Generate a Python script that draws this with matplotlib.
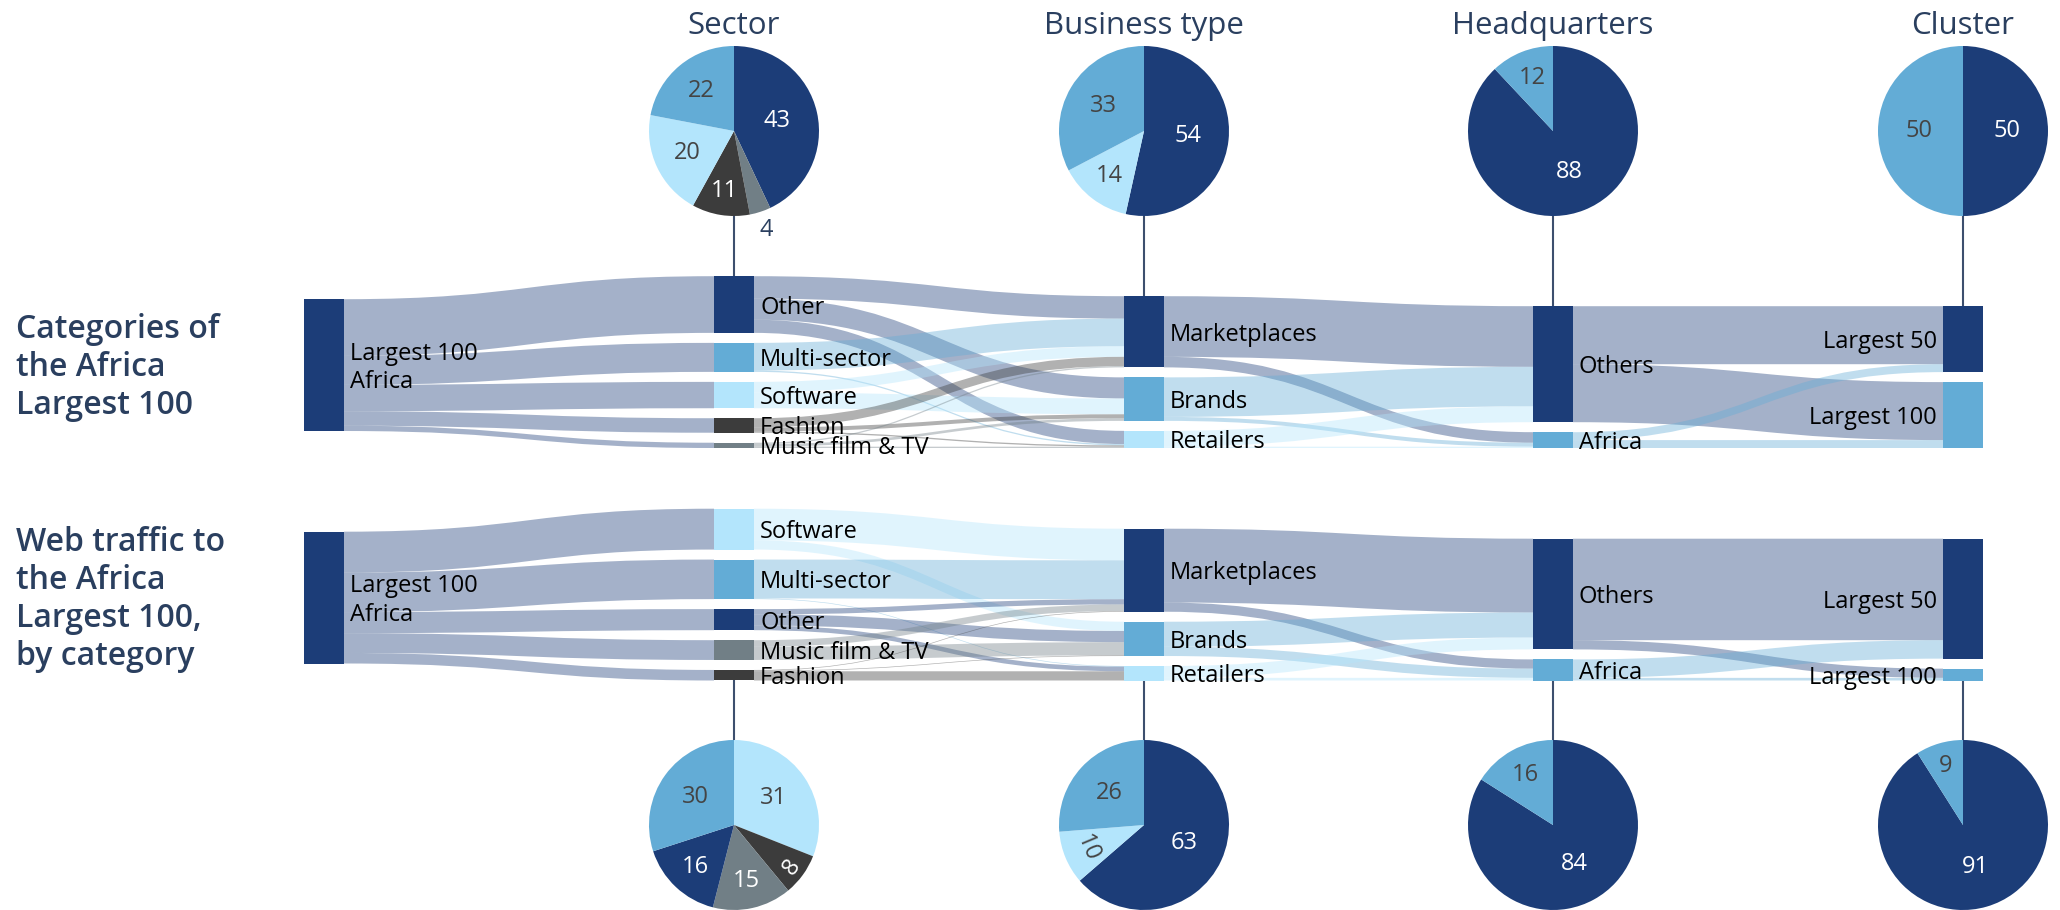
import matplotlib.pyplot as plt
from matplotlib.path import Path
from matplotlib.patches import PathPatch, Rectangle
from matplotlib.colors import to_rgba
import numpy as np

plt.rcParams['font.family'] = ['Open Sans', 'DejaVu Sans']

# ---------------- data ----------------
root_label = 'Largest 100\nAfrica'
row_titles = ['Categories of\nthe Africa\nLargest 100',
              'Web traffic to\nthe Africa\nLargest 100,\nby category']

# top sankey: count of companies
top_sectors = ['Other', 'Multi-sector', 'Software', 'Fashion', 'Music film & TV']
top_sector_values = [43, 22, 20, 11, 4]
top_business = ['Marketplaces', 'Brands', 'Retailers']
top_sector_to_business = [[17, 16, 10], [21, 0, 1], [8, 12, 0], [7, 3, 1], [1, 2, 1]]
top_hq = ['Others', 'Africa']
top_business_to_hq = [[46, 8], [30, 3], [12, 1]]
top_cluster = ['Largest 50', 'Largest 100']
top_hq_to_cluster = [[44, 44], [6, 6]]

# bottom sankey: web traffic
bot_sectors = ['Software', 'Multi-sector', 'Other', 'Music film & TV', 'Fashion']
bot_sector_values = [31, 30, 16, 15, 8]
bot_business = ['Marketplaces', 'Brands', 'Retailers']
bot_sector_to_business = [[24, 7, 0], [29.5, 0, 0.5], [4, 8.5, 3.5], [5, 10, 0], [0.5, 0.5, 7]]
bot_hq = ['Others', 'Africa']
bot_business_to_hq = [[56, 7], [19, 7], [9, 2]]
bot_cluster = ['Largest 50', 'Largest 100']
bot_hq_to_cluster = [[77, 7], [14, 2]]

# pies, clockwise from 12 o'clock
pie_titles = ['Sector', 'Business type', 'Headquarters', 'Cluster']
top_pie_labels = [['Other', 'Music film & TV', 'Fashion', 'Software', 'Multi-sector'],
                  ['Marketplaces', 'Retailers', 'Brands'],
                  ['Others', 'Africa'],
                  ['Largest 50', 'Largest 100']]
top_pie_values = [[43, 4, 11, 20, 22], [54, 14, 33], [88, 12], [50, 50]]
bot_pie_labels = [['Software', 'Fashion', 'Music film & TV', 'Other', 'Multi-sector'],
                  ['Marketplaces', 'Retailers', 'Brands'],
                  ['Others', 'Africa'],
                  ['Largest 50', 'Largest 100']]
bot_pie_values = [[31, 8, 15, 16, 30], [63, 10, 26], [84, 16], [91, 9]]

# ---------------- style ----------------
NAVY = '#1c3d78'
MID = '#63acd6'
LIGHT = '#b3e5fc'
DARK = '#3c3c3c'
GREY = '#717f86'
TXT = '#2a3f5f'
colors = {root_label: NAVY, 'Other': NAVY, 'Multi-sector': MID, 'Software': LIGHT,
          'Fashion': DARK, 'Music film & TV': GREY, 'Marketplaces': NAVY,
          'Brands': MID, 'Retailers': LIGHT, 'Others': NAVY, 'Africa': MID,
          'Largest 50': NAVY, 'Largest 100': MID}
white_text = {NAVY, DARK, GREY}

W, H = 2060, 910
col_x = [304, 714, 1124, 1533, 1943]
node_w = 40
scale = 1.318      # px per unit
gap = 10
baselines = [448, 680.5]
pie_r = 85
pie_cy = [131, 825]
lab_dy = 3         # node labels sit a touch below the node centre


def Y(y):
    return H - y


fig = plt.figure(figsize=(W / 100, H / 100), dpi=100)
ax = fig.add_axes([0, 0, 1, 1])


def draw_sankey(sectors, sector_values, business, s2b, hq, b2h, cluster, h2c, baseline):
    columns = [[root_label], sectors, business, hq, cluster]
    mats = [np.array([sector_values], float), np.array(s2b, float),
            np.array(b2h, float), np.array(h2c, float)]
    vals = [[mats[0].sum()]] + [list(m.sum(axis=0)) for m in mats]

    # node positions (pixel y, downwards)
    tops = [None] * 5
    for c in range(1, 5):
        total = sum(vals[c]) * scale + gap * (len(vals[c]) - 1)
        y = baseline - total
        t = []
        for v in vals[c]:
            t.append(y)
            y += v * scale + gap
        tops[c] = t
    mid = (tops[1][0] + baseline) / 2 + 3
    tops[0] = [mid - vals[0][0] * scale / 2]

    # links
    for k, m in enumerate(mats):
        x0 = col_x[k] + node_w
        x1 = col_x[k + 1]
        xm = (x0 + x1) / 2
        src_off = [tops[k][i] for i in range(m.shape[0])]
        tgt_start = {}
        for j in range(m.shape[1]):
            y = tops[k + 1][j]
            for i in range(m.shape[0]):
                tgt_start[(i, j)] = y
                y += m[i, j] * scale
        for i in range(m.shape[0]):
            for j in range(m.shape[1]):
                v = m[i, j]
                if v <= 0:
                    continue
                h = v * scale
                s0 = src_off[i]
                s1 = s0 + h
                src_off[i] = s1
                t0 = tgt_start[(i, j)]
                t1 = t0 + h
                verts = [(x0, Y(s0)), (xm, Y(s0)), (xm, Y(t0)), (x1, Y(t0)),
                         (x1, Y(t1)), (xm, Y(t1)), (xm, Y(s1)), (x0, Y(s1)), (x0, Y(s0))]
                codes = [Path.MOVETO, Path.CURVE4, Path.CURVE4, Path.CURVE4,
                         Path.LINETO, Path.CURVE4, Path.CURVE4, Path.CURVE4, Path.CLOSEPOLY]
                col = to_rgba(colors[columns[k][i]], 0.4)
                ax.add_patch(PathPatch(Path(verts, codes), facecolor=col,
                                       edgecolor='none', zorder=1))

    # nodes and labels
    for c in range(5):
        for name, v, t in zip(columns[c], vals[c], tops[c]):
            h = v * scale
            ax.add_patch(Rectangle((col_x[c], Y(t + h)), node_w, h,
                                   facecolor=colors[name], edgecolor='none', zorder=2))
            if c == 4:
                ax.text(col_x[c] - 6, Y(t + h / 2 + lab_dy), name, ha='right',
                        va='center', fontsize=17, color='black', zorder=4)
            else:
                ax.text(col_x[c] + node_w + 6, Y(t + h / 2 + lab_dy), name, ha='left',
                        va='center', fontsize=17, color='black', zorder=4,
                        linespacing=1.25)
    return tops, vals


def label_frac(p):
    if p >= 40:
        return 0.52
    if p >= 25:
        return 0.56
    if p >= 18:
        return 0.61
    if p >= 12:
        return 0.67
    if p >= 9:
        return 0.72
    return 0.85


def draw_pie(cx, cy, labels, values):
    cols = [colors[n] for n in labels]
    ax.pie(values, colors=cols, startangle=90, counterclock=False,
           center=(cx, Y(cy)), radius=pie_r, wedgeprops=dict(linewidth=0),
           frame=True)
    total = float(sum(values))
    c0 = 0
    for n, v, col in zip(labels, values, cols):
        p = v / total * 100
        m = (c0 + v / 2) / total
        c0 += v
        th = 2 * np.pi * m
        dx, dy = np.sin(th), np.cos(th)
        if p < 5:
            f = 1.22
            tc = TXT
        else:
            f = label_frac(p)
            tc = 'white' if col in white_text else '#444444'
        rot = 0
        if 5 <= p < 11 and abs(dx) > 0.5:
            rot = np.degrees(np.arctan2(dy, dx)) + 90
            if rot > 90:
                rot -= 180
            if rot < -90:
                rot += 180
        ax.text(cx + pie_r * f * dx, Y(cy) + pie_r * f * dy, f'{v:g}',
                ha='center', va='center', fontsize=17, color=tc, rotation=rot,
                rotation_mode='anchor', zorder=5)


panels = [
    (top_sectors, top_sector_values, top_business, top_sector_to_business,
     top_hq, top_business_to_hq, top_cluster, top_hq_to_cluster),
    (bot_sectors, bot_sector_values, bot_business, bot_sector_to_business,
     bot_hq, bot_business_to_hq, bot_cluster, bot_hq_to_cluster),
]
pie_sets = [(top_pie_labels, top_pie_values), (bot_pie_labels, bot_pie_values)]

for p, args in enumerate(panels):
    tops, vals = draw_sankey(*args, baselines[p])
    # row title centred on the root node
    ymid = tops[0][0] + vals[0][0] * scale / 2 + 2
    ax.text(16, Y(ymid), row_titles[p], ha='left', va='center', fontsize=23,
            fontweight='semibold', color=TXT, linespacing=1.2)
    labs, pvals = pie_sets[p]
    for c in range(1, 5):
        cx = col_x[c] + node_w / 2
        draw_pie(cx, pie_cy[p], labs[c - 1], pvals[c - 1])
        if p == 0:
            ax.plot([cx, cx], [Y(pie_cy[p] + pie_r), Y(tops[c][0])],
                    color='#3d4f6e', lw=1.5, zorder=0)
        else:
            ax.plot([cx, cx], [Y(baselines[p]), Y(pie_cy[p] - pie_r)],
                    color='#3d4f6e', lw=1.5, zorder=0)

for c, title in enumerate(pie_titles):
    ax.text(col_x[c + 1] + node_w / 2, Y(26), title, ha='center', va='center',
            fontsize=22.5, color=TXT)

ax.set_xlim(0, W)
ax.set_ylim(0, H)
ax.set_aspect('equal')
ax.axis('off')

fig.savefig('out.png', dpi=100)
